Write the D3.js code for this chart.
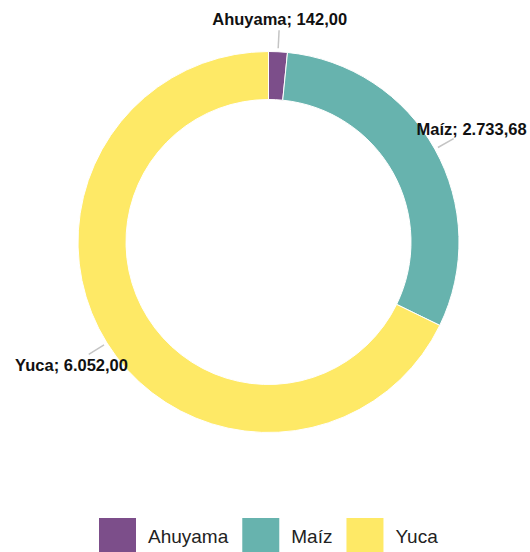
<!DOCTYPE html>
<html>
  <head>
    <meta charset="utf-8" />
    <title>Cultivos</title>
    <style>
      body {
        margin: 0;
        background: #fff;
      }
      .label {
        font-family: "Liberation Sans", Arial, sans-serif;
        font-weight: bold;
        font-size: 16.5px;
        fill: #111;
      }
      .legend text {
        font-family: "Liberation Sans", Arial, sans-serif;
        font-size: 19px;
        fill: #222;
      }
    </style>
  </head>
  <body>
    <div id="chart"></div>

    <script src="https://d3js.org/d3.v7.min.js"></script>
    <script>
      // data
      var categories = ["Ahuyama", "Maíz", "Yuca"];
      var values = [142.0, 2733.68, 6052.0];
      var labelTexts = ["Ahuyama; 142,00", "Maíz; 2.733,68", "Yuca; 6.052,00"];
      var colors = ["#7c4e8a", "#67b3ae", "#fee966"];

      var width = 530,
        height = 552;
      var cx = 268.5,
        cy = 242;
      var outerR = 190.5,
        innerR = 142.5;

      var svg = d3
        .select("#chart")
        .append("svg")
        .attr("width", width)
        .attr("height", height);

      var data = categories.map(function (c, i) {
        return { name: c, value: values[i], label: labelTexts[i], color: colors[i] };
      });

      var pie = d3
        .pie()
        .sort(null)
        .value(function (d) {
          return d.value;
        });

      var arc = d3.arc().innerRadius(innerR).outerRadius(outerR);

      var g = svg.append("g").attr("transform", "translate(" + cx + "," + cy + ")");

      var arcs = pie(data);

      g.selectAll("path")
        .data(arcs)
        .enter()
        .append("path")
        .attr("d", arc)
        .attr("fill", function (d) {
          return d.data.color;
        })
        .attr("stroke", "#fff")
        .attr("stroke-width", 1);

      // leader lines
      function polar(a, r) {
        return [Math.sin(a) * r, -Math.cos(a) * r];
      }
      function mid(d) {
        return (d.startAngle + d.endAngle) / 2;
      }

      g.selectAll("line.leader")
        .data(arcs)
        .enter()
        .append("line")
        .attr("class", "leader")
        .attr("x1", function (d) {
          return polar(mid(d), 194)[0];
        })
        .attr("y1", function (d) {
          return polar(mid(d), 194)[1];
        })
        .attr("x2", function (d) {
          return polar(mid(d), 212)[0];
        })
        .attr("y2", function (d) {
          return polar(mid(d), 212)[1];
        })
        .attr("stroke", "#c4c4c4")
        .attr("stroke-width", 1.5);

      // labels
      g.selectAll("text.label")
        .data(arcs)
        .enter()
        .append("text")
        .attr("class", "label")
        .attr("text-anchor", "middle")
        .attr("dominant-baseline", "central")
        .attr("transform", function (d) {
          var a = mid(d);
          var r = 223 + 11 * Math.abs(Math.sin(a));
          var p = polar(a, r);
          return "translate(" + p[0] + "," + p[1] + ")";
        })
        .text(function (d) {
          return d.data.label;
        });

      // legend
      var legend = svg.append("g").attr("class", "legend");
      var lx = 99;
      var box = 37;
      data.forEach(function (d) {
        var item = legend.append("g").attr("transform", "translate(" + lx + ",518)");
        item
          .append("rect")
          .attr("width", box)
          .attr("height", box)
          .attr("fill", d.color);
        var t = item
          .append("text")
          .attr("x", box + 12)
          .attr("y", 25)
          .text(d.name);
        lx += box + 12 + t.node().getComputedTextLength() + 14;
      });
    </script>
  </body>
</html>
